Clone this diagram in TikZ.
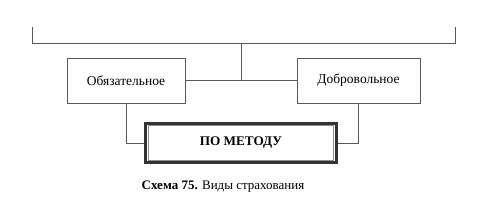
\documentclass[tikz,border=0pt]{standalone}
\usepackage{fontspec}
\setmainfont{Liberation Serif}
\begin{document}
\begin{tikzpicture}[x=1pt,y=-1pt,
  thinline/.style={draw=black!65, line width=0.8pt},
  kindbox/.style={thinline, rectangle, minimum height=45pt, inner sep=0pt, font=\fontsize{13.5}{15}\selectfont},
  mainbox/.style={draw=black!80, line width=2.7pt, rectangle, minimum width=191pt, minimum height=39.5pt, inner sep=0pt, font=\bfseries\fontsize{13.2}{15}\selectfont}]
\useasboundingbox (0,0) rectangle (481,211);
\coordinate (tl) at (32,27);
\coordinate (tr) at (455,27);
\coordinate (bl) at (32,43);
\coordinate (br) at (455,43);
\coordinate (stem) at (241,43);
\coordinate (mid) at (241,81);
\node[kindbox, minimum width=118pt] (obl) at (126,80.5) {Обязательное};
\node[kindbox, minimum width=123pt] (dob) at (358.5,80.5) {Добровольное};
\node[mainbox] (pm) at (241,143) {ПО МЕТОДУ};
\draw[draw=black!45, line width=0.9pt] ([xshift=4pt,yshift=-3.2pt]pm.north west) rectangle ([xshift=-4pt,yshift=3.2pt]pm.south east);
\draw[thinline] (tl) -- (bl) -- (br) -- (tr);
\draw[thinline] (stem) -- (mid);
\draw[thinline] (obl.east) -- (dob.west);
\draw[thinline] (obl.south) |- (pm.west);
\draw[thinline] (dob.south) |- (pm.east);
\node[font=\fontsize{13}{15}\selectfont, inner sep=0pt] (cap) at (223,187) {\textbf{Схема 75.} Виды страхования};
\end{tikzpicture}
\end{document}
